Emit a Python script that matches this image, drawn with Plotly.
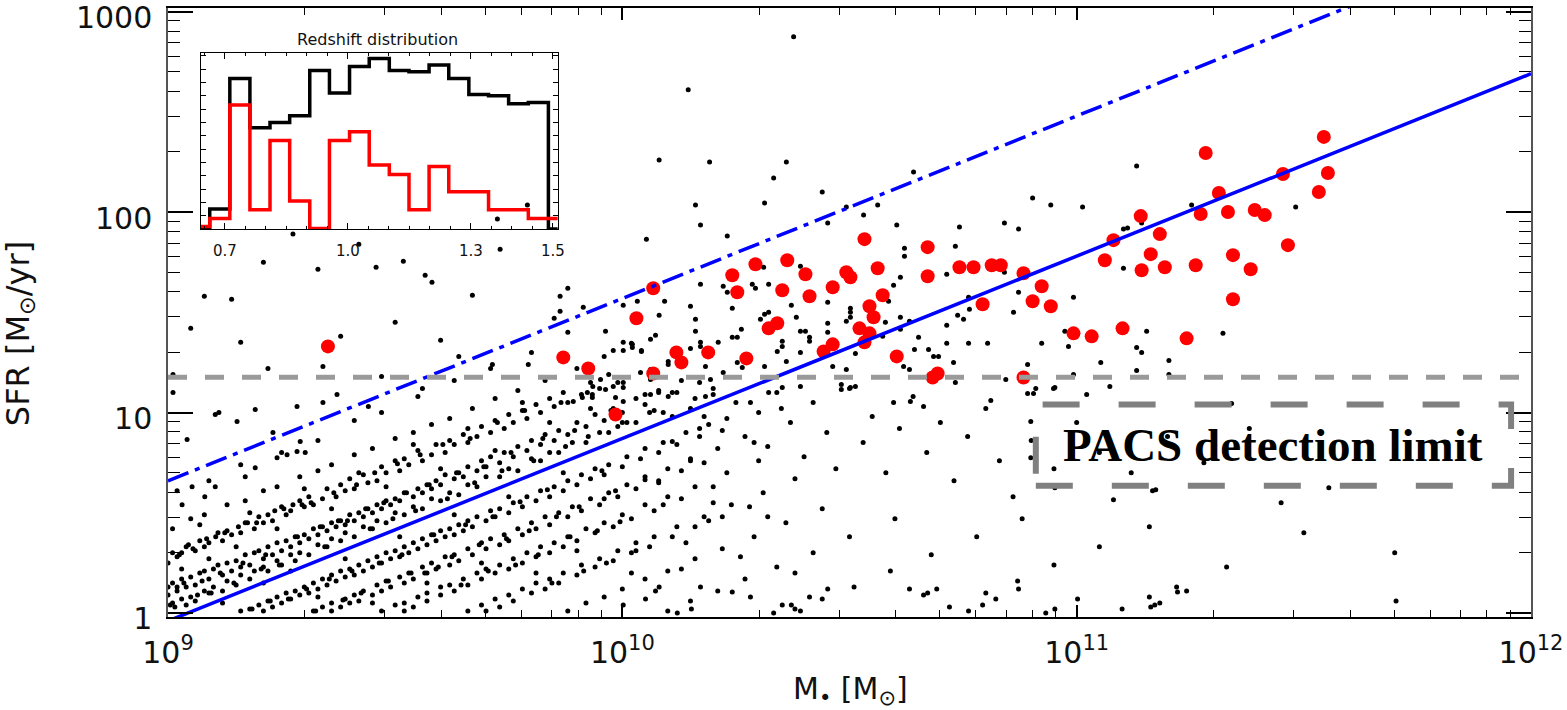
import plotly.graph_objects as go

# ---------------------------------------------------------------------------
# Field galaxies: pairs of (log10 M* [Msun], log10 SFR [Msun/yr])
# ---------------------------------------------------------------------------
field_sparse = [
    (9.011, 1.19), (9.011, 1.10), (9.341, 1.23), (9.341, 1.05), (9.372, 1.09),
    (9.284, 1.03), (9.192, 1.015), (9.104, 0.99), (9.112, 1.00), (9.152, 0.955),
    (9.441, 1.03), (9.714, 1.24), (9.793, 1.24), (9.042, 0.865), (9.031, 0.54),
    (9.053, 0.63), (9.081, 0.58), (9.104, 0.63), (9.231, 0.90), (9.192, 0.725),
    (9.170, 0.68), (9.291, 0.855), (9.262, 0.79), (9.240, 0.775), (9.284, 0.805),
    (9.302, 0.80), (9.080, 1.58), (9.140, 1.565), (9.210, 1.75), (9.275, 1.89),
    (9.330, 1.715), (9.420, 1.84), (9.458, 1.725), (9.518, 1.755), (9.566, 1.685),
    (9.581, 1.65), (9.670, 1.585), (9.725, 1.965), (9.791, 2.035), (9.731, 1.815),
    (10.145, 2.61), (10.377, 2.875), (9.05, 1.42), (9.38, 1.38), (9.60, 1.36),
    (9.50, 1.45), (9.88, 1.62), (9.64, 1.28), (9.85, 1.47), (9.47, 1.18),
    (9.56, 1.12), (9.22, 1.22), (9.16, 1.35),
]

field_band_top = [
    (9.02, 0.61), (9.09, 0.66), (9.16, 0.74), (9.25, 0.80), (9.33, 0.86),
    (9.41, 0.96), (9.47, 1.00), (9.55, 1.08), (9.63, 1.16), (9.71, 1.22),
    (9.80, 1.30), (9.88, 1.40),
    (9.01, 0.42), (9.05, 0.47), (9.08, 0.49), (9.13, 0.54), (9.17, 0.56),
    (9.21, 0.61), (9.24, 0.63), (9.29, 0.68), (9.33, 0.71), (9.36, 0.74),
    (9.41, 0.79), (9.45, 0.82), (9.50, 0.87), (9.54, 0.90), (9.58, 0.94),
    (9.62, 0.97), (9.67, 1.02), (9.72, 1.07), (9.77, 1.11), (9.83, 1.16),
    (9.90, 1.22), (9.96, 1.28),
]

field_band_upper = [
    (9.00, 0.25), (9.02, 0.28), (9.03, 0.30), (9.06, 0.31), (9.08, 0.33),
    (9.09, 0.35), (9.12, 0.36), (9.14, 0.39), (9.16, 0.40), (9.19, 0.42),
    (9.21, 0.45), (9.23, 0.46), (9.26, 0.49), (9.27, 0.51), (9.30, 0.53),
    (9.32, 0.54), (9.34, 0.57), (9.37, 0.58), (9.39, 0.61), (9.41, 0.62),
    (9.44, 0.65), (9.46, 0.66), (9.48, 0.70), (9.51, 0.71), (9.53, 0.74),
    (9.56, 0.76), (9.58, 0.79), (9.61, 0.80), (9.63, 0.84), (9.66, 0.85),
    (9.68, 0.88), (9.71, 0.90), (9.74, 0.92), (9.76, 0.95), (9.79, 0.97),
    (9.82, 1.00), (9.85, 1.03), (9.88, 1.05), (9.91, 1.09), (9.95, 1.12),
    (9.99, 1.15), (10.04, 1.20),
    (9.01, 0.30), (9.04, 0.33), (9.07, 0.36), (9.11, 0.40), (9.13, 0.41),
    (9.17, 0.45), (9.20, 0.48), (9.22, 0.49), (9.25, 0.53), (9.29, 0.56),
    (9.31, 0.58), (9.35, 0.62), (9.38, 0.64), (9.40, 0.67), (9.43, 0.69),
    (9.47, 0.73), (9.50, 0.76), (9.52, 0.77), (9.55, 0.81), (9.59, 0.84),
    (9.62, 0.86), (9.65, 0.89), (9.69, 0.93), (9.72, 0.96), (9.75, 0.99),
    (9.78, 1.01), (9.81, 1.04), (9.84, 1.07), (9.87, 1.10), (9.93, 1.15),
    (9.97, 1.19),
    (9.00, 0.13), (9.01, 0.15), (9.03, 0.17), (9.05, 0.18), (9.07, 0.20),
    (9.08, 0.21), (9.10, 0.22), (9.11, 0.24), (9.13, 0.25), (9.15, 0.26),
    (9.17, 0.29), (9.19, 0.30), (9.20, 0.31), (9.22, 0.33), (9.24, 0.35),
    (9.26, 0.36), (9.28, 0.38), (9.30, 0.39), (9.32, 0.42), (9.34, 0.43),
    (9.36, 0.45), (9.38, 0.46), (9.40, 0.49), (9.42, 0.50), (9.44, 0.52),
    (9.46, 0.54), (9.48, 0.56), (9.50, 0.57), (9.52, 0.60), (9.55, 0.62),
    (9.57, 0.64), (9.59, 0.66), (9.61, 0.69), (9.64, 0.70), (9.66, 0.73),
    (9.69, 0.76), (9.71, 0.78), (9.74, 0.80), (9.77, 0.83), (9.80, 0.86),
    (9.83, 0.89), (9.86, 0.91), (9.90, 0.95), (9.94, 0.99), (9.98, 1.02),
    (10.03, 1.07), (10.08, 1.11), (10.13, 1.16),
    (9.00, 0.09), (9.02, 0.11), (9.04, 0.13), (9.06, 0.14), (9.09, 0.17),
    (9.12, 0.19), (9.14, 0.21), (9.16, 0.23), (9.18, 0.24), (9.21, 0.27),
    (9.23, 0.29), (9.25, 0.31), (9.27, 0.33), (9.29, 0.35), (9.31, 0.37),
    (9.33, 0.39), (9.35, 0.41), (9.37, 0.43), (9.39, 0.44), (9.41, 0.46),
    (9.43, 0.48), (9.45, 0.50), (9.47, 0.52), (9.49, 0.54), (9.51, 0.56),
    (9.54, 0.58), (9.56, 0.60), (9.58, 0.62), (9.60, 0.64), (9.63, 0.67),
    (9.65, 0.68), (9.68, 0.71), (9.70, 0.73), (9.73, 0.75), (9.76, 0.78),
    (9.79, 0.81), (9.82, 0.84), (9.85, 0.86), (9.88, 0.89), (9.92, 0.93),
    (9.96, 0.96), (10.00, 1.00), (10.05, 1.04), (10.11, 1.10),
]

field_band_mid = [
    (9.04, 0.04), (9.06, 0.06), (9.09, 0.10), (9.12, 0.11), (9.15, 0.14),
    (9.18, 0.17), (9.22, 0.21), (9.25, 0.24), (9.28, 0.26), (9.31, 0.29),
    (9.35, 0.33), (9.38, 0.36), (9.41, 0.38), (9.45, 0.42), (9.48, 0.45),
    (9.52, 0.49), (9.56, 0.52), (9.60, 0.56), (9.64, 0.59), (9.68, 0.63),
    (9.73, 0.68), (9.77, 0.71), (9.82, 0.76), (9.86, 0.80), (9.92, 0.85),
    (9.97, 0.90), (10.03, 0.95), (10.09, 1.00), (10.16, 1.07),
    (9.01, 0.05), (9.03, 0.07), (9.05, 0.08), (9.08, 0.11), (9.10, 0.13),
    (9.13, 0.16), (9.16, 0.19), (9.19, 0.21), (9.21, 0.23), (9.24, 0.26),
    (9.27, 0.29), (9.29, 0.30), (9.33, 0.34), (9.36, 0.37), (9.39, 0.40),
    (9.43, 0.43), (9.46, 0.46), (9.50, 0.50), (9.54, 0.53), (9.58, 0.57),
    (9.62, 0.60), (9.66, 0.64), (9.70, 0.68), (9.75, 0.72), (9.80, 0.77),
    (9.84, 0.80), (9.89, 0.85), (9.95, 0.90), (10.00, 0.95), (10.06, 1.00),
    (9.16, 0.01), (9.18, 0.02), (9.20, 0.04), (9.22, 0.06), (9.24, 0.08),
    (9.26, 0.10), (9.28, 0.11), (9.30, 0.13), (9.32, 0.15), (9.34, 0.17),
    (9.36, 0.19), (9.38, 0.21), (9.40, 0.22), (9.42, 0.24), (9.44, 0.26),
    (9.46, 0.28), (9.48, 0.30), (9.50, 0.31), (9.52, 0.33), (9.54, 0.35),
    (9.56, 0.37), (9.58, 0.39), (9.60, 0.41), (9.62, 0.42), (9.64, 0.44),
    (9.66, 0.46), (9.68, 0.48), (9.71, 0.51), (9.73, 0.52), (9.76, 0.55),
    (9.79, 0.58), (9.82, 0.61), (9.85, 0.63), (9.88, 0.66), (9.91, 0.69),
    (9.94, 0.72), (9.97, 0.74), (10.01, 0.78), (10.05, 0.82), (10.09, 0.85),
    (10.14, 0.90), (10.19, 0.94),
    (9.21, 0.01), (9.23, 0.03), (9.25, 0.05), (9.27, 0.07), (9.29, 0.09),
    (9.31, 0.10), (9.33, 0.12), (9.35, 0.14), (9.37, 0.16), (9.39, 0.18),
    (9.41, 0.19), (9.43, 0.21), (9.45, 0.23), (9.47, 0.25), (9.49, 0.27),
    (9.51, 0.28), (9.53, 0.30), (9.55, 0.32), (9.57, 0.34), (9.59, 0.36),
    (9.61, 0.38), (9.63, 0.39), (9.65, 0.41), (9.67, 0.43), (9.70, 0.46),
    (9.72, 0.48), (9.75, 0.50), (9.78, 0.53), (9.81, 0.56), (9.84, 0.58),
    (9.87, 0.61), (9.90, 0.64), (9.93, 0.67), (9.96, 0.69), (10.00, 0.73),
    (10.04, 0.77), (10.08, 0.80), (10.12, 0.84), (10.17, 0.88),
]

field_band_low = [
    (9.32, 0.01), (9.34, 0.03), (9.36, 0.05), (9.39, 0.07), (9.41, 0.09),
    (9.43, 0.11), (9.46, 0.14), (9.48, 0.16), (9.51, 0.18), (9.53, 0.20),
    (9.56, 0.23), (9.58, 0.25), (9.61, 0.28), (9.63, 0.29), (9.66, 0.32),
    (9.69, 0.35), (9.71, 0.37), (9.74, 0.39), (9.77, 0.42), (9.80, 0.45),
    (9.83, 0.48), (9.86, 0.50), (9.89, 0.53), (9.93, 0.57), (9.97, 0.60),
    (10.01, 0.64), (10.05, 0.68), (10.10, 0.72), (10.15, 0.77), (10.21, 0.82),
    (9.36, 0.01), (9.38, 0.03), (9.40, 0.05), (9.42, 0.06), (9.45, 0.09),
    (9.47, 0.11), (9.49, 0.13), (9.52, 0.15), (9.54, 0.17), (9.57, 0.20),
    (9.59, 0.22), (9.62, 0.24), (9.64, 0.26), (9.67, 0.29), (9.70, 0.32),
    (9.73, 0.34), (9.75, 0.36), (9.78, 0.39), (9.81, 0.42), (9.84, 0.44),
    (9.88, 0.48), (9.91, 0.51), (9.95, 0.54), (9.99, 0.58), (10.03, 0.62),
    (10.08, 0.66), (10.13, 0.71), (10.18, 0.75),
    (9.47, 0.01), (9.50, 0.04), (9.52, 0.05), (9.55, 0.08), (9.57, 0.10),
    (9.60, 0.13), (9.62, 0.14), (9.65, 0.17), (9.68, 0.20), (9.70, 0.22),
    (9.73, 0.24), (9.76, 0.27), (9.79, 0.30), (9.82, 0.33), (9.85, 0.35),
    (9.88, 0.38), (9.92, 0.42), (9.96, 0.45), (10.00, 0.49), (10.05, 0.54),
    (10.10, 0.58), (10.16, 0.63), (10.23, 0.70), (10.30, 0.76),
    (9.52, 0.01), (9.54, 0.03), (9.57, 0.06), (9.60, 0.09), (9.63, 0.11),
    (9.66, 0.14), (9.69, 0.17), (9.72, 0.20), (9.75, 0.22), (9.78, 0.25),
    (9.81, 0.28), (9.84, 0.30), (9.87, 0.33), (9.90, 0.36), (9.94, 0.40),
    (9.98, 0.43), (10.02, 0.47), (10.07, 0.51), (10.13, 0.57), (10.20, 0.63),
    (9.66, 0.01), (9.69, 0.04), (9.72, 0.07), (9.75, 0.09), (9.78, 0.12),
    (9.81, 0.15), (9.84, 0.17), (9.87, 0.20), (9.91, 0.24), (9.95, 0.27),
    (9.99, 0.31), (10.03, 0.35), (10.07, 0.38), (10.12, 0.43), (10.18, 0.48),
    (10.24, 0.54), (10.31, 0.60), (10.38, 0.67),
    (9.70, 0.01), (9.73, 0.03), (9.76, 0.06), (9.80, 0.10), (9.83, 0.12),
    (9.86, 0.15), (9.90, 0.19), (9.94, 0.23), (9.98, 0.26), (10.02, 0.30),
    (10.06, 0.33), (10.11, 0.38), (10.16, 0.43), (10.22, 0.48), (10.28, 0.53),
    (9.88, 0.01), (9.92, 0.05), (9.96, 0.08), (10.00, 0.12), (10.05, 0.17),
    (10.10, 0.21), (10.16, 0.27), (10.22, 0.32), (10.29, 0.38), (10.36, 0.45),
    (10.44, 0.52),
    (10.10, 0.01), (10.15, 0.06), (10.21, 0.11), (10.27, 0.17), (10.34, 0.23),
    (10.42, 0.30), (10.50, 0.38), (10.60, 0.47),
    (10.38, 0.02), (10.44, 0.07), (10.51, 0.13), (10.59, 0.21), (10.68, 0.29),
    (10.78, 0.38), (10.88, 0.47),
    (10.72, 0.03), (10.80, 0.10), (10.87, 0.16), (10.95, 0.24), (11.05, 0.33),
    (11.16, 0.43),
    (11.10, 0.02), (11.16, 0.08), (11.22, 0.13), (11.33, 0.23),
]

field_scatter = [
    (9.03, 0.22), (9.07, 0.44), (9.09, 0.27), (9.12, 0.05), (9.15, 0.33),
    (9.18, 0.50), (9.21, 0.15), (9.24, 0.42), (9.27, 0.21), (9.30, 0.62),
    (9.33, 0.08), (9.36, 0.52), (9.39, 0.27), (9.42, 0.70), (9.45, 0.05),
    (9.48, 0.63), (9.51, 0.38), (9.54, 0.84), (9.57, 0.15), (9.60, 0.72),
    (9.63, 0.49), (9.66, 0.92), (9.69, 0.25), (9.72, 0.81), (9.75, 0.58),
    (9.78, 1.05), (9.81, 0.20), (9.84, 0.95), (9.87, 0.70), (9.90, 0.31),
    (9.93, 1.02), (9.96, 0.57), (9.99, 0.93), (10.02, 0.20), (10.05, 1.09),
    (10.08, 0.65), (10.11, 0.98), (10.14, 0.35), (10.17, 1.15), (10.20, 0.55),
    (10.23, 0.97), (10.26, 0.28), (10.29, 0.85), (10.32, 0.48), (10.35, 1.02),
    (10.38, 0.20),
]

field_ribbons = [
    (9.005, 0.04), (9.015, 0.03), (9.020, 0.13), (9.025, 0.29), (9.035, 0.15),
    (9.045, 0.34), (9.055, 0.32), (9.065, 0.09), (9.075, 0.16), (9.085, 0.37),
    (9.095, 0.10), (9.105, 0.38), (9.115, 0.20), (9.125, 0.40), (9.145, 0.15),
    (9.155, 0.43), (9.165, 0.25), (9.175, 0.45), (9.185, 0.02), (9.195, 0.45),
    (9.205, 0.22), (9.215, 0.29), (9.225, 0.06), (9.235, 0.51), (9.245, 0.24),
    (9.255, 0.52), (9.265, 0.07), (9.275, 0.54), (9.285, 0.38), (9.295, 0.54),
    (9.305, 0.12), (9.315, 0.55), (9.325, 0.01), (9.335, 0.43), (9.345, 0.33),
    (9.355, 0.17), (9.365, 0.60), (9.375, 0.46), (9.385, 0.065), (9.395, 0.46),
    (9.405, 0.21), (9.415, 0.64), (9.425, 0.10), (9.435, 0.52), (9.445, 0.42),
    (9.455, 0.70), (9.465, 0.25), (9.475, 0.55), (9.485, 0.16), (9.495, 0.47),
    (9.505, 0.745), (9.515, 0.29), (9.525, 0.60), (9.535, 0.20), (9.545, 0.51),
    (9.555, 0.79), (9.565, 0.20), (9.575, 0.64), (9.585, 0.39), (9.595, 0.23),
    (9.605, 0.84), (9.615, 0.57), (9.625, 0.28), (9.635, 0.70), (9.645, 0.14),
    (9.655, 0.44), (9.665, 0.87), (9.675, 0.65), (9.685, 0.34), (9.695, 0.73),
    (9.705, 0.21), (9.715, 0.48), (9.725, 0.95), (9.735, 0.71), (9.745, 0.37),
    (9.755, 0.80), (9.765, 0.24), (9.775, 0.555), (9.785, 1.01), (9.795, 0.41),
    (9.805, 0.76), (9.815, 0.29), (9.825, 0.87), (9.835, 0.615), (9.845, 0.15),
    (9.855, 0.48), (9.865, 1.05), (9.875, 0.83), (9.885, 0.38), (9.895, 0.91),
    (9.905, 0.53), (9.915, 0.21), (9.925, 0.88), (9.935, 1.13), (9.945, 0.41),
    (9.955, 0.71), (9.965, 0.25), (9.975, 1.01), (9.985, 0.61), (9.995, 0.455),
    (10.01, 0.95), (10.03, 0.31), (10.05, 0.665), (10.07, 1.01), (10.09, 0.54),
    (10.11, 0.855), (10.13, 0.22), (10.15, 0.76), (10.17, 0.92), (10.19, 0.46),
]

field_floor = [
    (10.002, 0.04), (10.051, 0.07), (10.073, 0.11), (10.081, 0.13), (10.121, 0.00),
    (10.152, 0.02), (10.172, 0.13), (10.242, 0.105), (10.282, 0.08), (10.333, 0.00),
    (10.352, 0.04), (10.372, 0.04), (10.392, 0.01), (10.412, 0.08), (10.452, 0.12),
    (10.632, 0.12), (10.663, 0.09), (10.672, 0.10), (10.692, 0.12), (10.762, 0.01),
    (10.793, 0.04), (10.822, 0.07), (10.872, 0.12), (10.932, 0.00), (10.952, 0.02),
    (11.002, 0.07), (11.163, 0.03), (11.172, 0.04), (11.183, 0.05), (11.222, 0.105),
    (11.242, 0.11), (11.703, 0.06),
]

field_mid = [
    (10.081, 2.26), (10.192, 2.25), (10.361, 2.25), (10.333, 2.17), (10.641, 2.20),
    (10.440, 2.10), (10.903, 2.07), (10.943, 2.035), (10.161, 2.035), (10.313, 2.045),
    (10.493, 2.025), (10.562, 2.035), (10.531, 1.985), (10.452, 1.945), (10.604, 1.935),
    (10.742, 1.925), (10.841, 1.945), (10.872, 1.915), (10.172, 1.935), (10.053, 1.865),
    (10.231, 1.88), (10.621, 1.82), (10.621, 1.78), (10.733, 1.83), (10.612, 1.675),
    (10.597, 1.635), (10.714, 1.69), (10.392, 1.73), (10.311, 1.725), (10.286, 1.64),
    (10.293, 1.62), (10.322, 1.64), (10.222, 1.63), (10.231, 1.60), (10.172, 1.64),
    (10.093, 1.555), (10.081, 1.485), (10.033, 1.555), (9.863, 1.58), (9.863, 1.505),
    (9.914, 1.525), (9.963, 1.405), (10.002, 1.535), (10.762, 1.575), (10.764, 1.515),
    (10.861, 1.50), (10.714, 1.435), (10.738, 1.485), (10.751, 1.465), (10.612, 1.475),
    (10.612, 1.415), (10.586, 1.555), (10.579, 1.45), (10.652, 1.375), (10.696, 1.28),
    (10.685, 1.28), (10.714, 1.345), (10.729, 1.25), (10.632, 1.455), (10.632, 1.215),
    (10.643, 1.315), (10.674, 1.315), (10.619, 1.23), (10.597, 1.05), (10.634, 1.055),
    (10.663, 1.03), (10.762, 1.345), (10.804, 1.345), (10.811, 1.06), (10.844, 1.165),
    (10.892, 1.095), (10.905, 1.095), (10.949, 1.12), (10.733, 1.15),
    (10.002, 1.35), (10.020, 1.345), (9.980, 1.31), (10.002, 1.31), (10.042, 1.31),
    (10.062, 1.365), (10.073, 1.385), (10.101, 1.255), (10.101, 1.24), (10.062, 1.215),
    (10.062, 1.165), (10.062, 1.09), (10.080, 1.10), (10.101, 1.08), (10.150, 1.53),
    (10.150, 1.32), (10.161, 1.465), (10.161, 1.405), (10.172, 1.35), (10.172, 1.33),
    (10.183, 1.23), (10.194, 1.165), (10.200, 1.09), (10.183, 1.08), (10.211, 1.35),
    (10.222, 1.20), (10.242, 1.52), (10.242, 1.375), (10.253, 1.375), (10.262, 1.415),
    (10.253, 1.25), (10.264, 1.225), (10.282, 1.05), (10.304, 1.465), (10.313, 1.49),
    (10.322, 1.50), (10.313, 1.23), (10.322, 1.10), (10.341, 1.305), (10.352, 1.355),
    (10.352, 1.33), (10.352, 1.125), (10.361, 1.255), (10.372, 1.535), (10.383, 1.475),
    (10.392, 1.405), (10.403, 1.405), (10.412, 1.375), (10.412, 1.355), (10.392, 1.30),
    (10.392, 1.13), (10.452, 1.55), (10.452, 1.445), (10.452, 1.40), (10.463, 1.23),
    (10.482, 1.14), (10.482, 1.115), (10.493, 1.455), (10.493, 1.215), (10.502, 1.52),
    (10.502, 1.50), (10.502, 1.475), (10.502, 1.125), (10.513, 1.13), (10.513, 1.295),
    (10.573, 1.38),
    (9.892, 1.055), (9.912, 1.075), (9.923, 1.10), (9.934, 1.09), (9.934, 1.075),
    (9.952, 1.165), (9.963, 1.115), (9.980, 1.13), (9.985, 1.075), (10.002, 1.15),
    (10.002, 1.125), (10.002, 1.055), (10.022, 1.34), (10.022, 1.325), (10.042, 1.305),
    (10.12, 1.10), (10.15, 1.02), (10.18, 0.98), (10.20, 1.12), (10.22, 0.91),
    (10.25, 1.05), (10.27, 0.88), (10.30, 1.00), (10.32, 0.83), (10.34, 1.10),
    (10.37, 0.95), (10.40, 0.78), (10.42, 1.05), (10.45, 0.90), (10.47, 0.72),
    (10.50, 1.12), (10.53, 0.85), (10.55, 0.98), (10.58, 0.70), (10.61, 0.92),
    (10.64, 1.08), (10.67, 0.80), (10.70, 0.95), (10.73, 0.66), (10.76, 0.88),
    (10.80, 1.02), (10.83, 0.76), (10.86, 0.58), (10.90, 0.86), (10.95, 0.72),
    (11.00, 0.95), (11.05, 0.80), (11.12, 0.70), (11.20, 0.88), (11.28, 0.75),
    (11.38, 0.92), (11.45, 0.55), (11.50, 0.40), (11.62, 0.85), (11.70, 0.30),
]

field_massive = [
    (11.132, 2.23), (11.013, 2.025), (11.103, 1.915), (11.112, 1.92), (11.143, 1.945),
    (11.253, 2.035), (11.482, 2.025), (11.103, 1.72), (10.841, 1.70), (10.872, 1.60),
    (10.993, 1.575), (10.974, 1.405), (11.154, 1.405), (10.923, 1.345), (10.982, 1.33),
    (11.132, 1.325), (11.143, 1.30), (11.322, 1.395), (11.053, 1.25), (10.892, 1.24),
    (10.993, 1.19), (11.132, 1.21), (11.203, 1.26), (11.203, 1.19), (11.073, 1.13),
    (10.952, 1.125), (10.910, 1.12), (11.022, 1.09), (11.341, 1.045), (10.899, 0.955),
    (10.899, 0.775), (10.952, 0.625), (11.555, 0.625), (11.167, 0.61), (11.174, 0.615),
    (11.081, 0.565),
]

# PACS-detected galaxies (log10 M*, log10 SFR)
pacs_detected = [
    (9.352, 1.33), (9.870, 1.275), (9.925, 1.22), (9.985, 0.99), (10.031, 1.47),
    (10.068, 1.62), (10.068, 1.195), (10.119, 1.30), (10.130, 1.25), (10.189, 1.30),
    (10.242, 1.685), (10.253, 1.60), (10.273, 1.27), (10.293, 1.74), (10.322, 1.42),
    (10.341, 1.445), (10.352, 1.61), (10.363, 1.76), (10.403, 1.69), (10.412, 1.58),
    (10.443, 1.305), (10.463, 1.34), (10.463, 1.625), (10.493, 1.70), (10.502, 1.675),
    (10.522, 1.42), (10.533, 1.865), (10.533, 1.35), (10.544, 1.53), (10.544, 1.395),
    (10.553, 1.475), (10.562, 1.72), (10.573, 1.585), (10.604, 1.28), (10.672, 1.825),
    (10.672, 1.68), (10.683, 1.175), (10.694, 1.195), (10.742, 1.725), (10.773, 1.725),
    (10.793, 1.54), (10.813, 1.735), (10.833, 1.735), (10.883, 1.695), (10.883, 1.175),
    (10.903, 1.555), (10.923, 1.63), (10.943, 1.53), (10.993, 1.395), (11.033, 1.38),
    (11.062, 1.76), (11.081, 1.86), (11.101, 1.42), (11.141, 1.98), (11.143, 1.71),
    (11.163, 1.79), (11.183, 1.89), (11.194, 1.725), (11.242, 1.37), (11.262, 1.735),
    (11.273, 1.99), (11.284, 2.295), (11.313, 2.095), (11.333, 2.00), (11.344, 1.785),
    (11.344, 1.565), (11.383, 1.715), (11.392, 2.01), (11.414, 1.985), (11.454, 2.19),
    (11.465, 1.835), (11.533, 2.10), (11.544, 2.375), (11.553, 2.195),
]

# Main-sequence relation and the starburst boundary (5x above it)
line_mass = [1e9, 1e12]
ms_sfr = [0.912, 490.0]
sb_sfr = [4.56, 2450.0]
pacs_limit_sfr = 15.0

# Redshift histograms (inset)
z_edges = [0.641, 0.663, 0.712, 0.761, 0.810, 0.858, 0.907, 0.955, 1.004, 1.052,
           1.101, 1.149, 1.198, 1.246, 1.295, 1.343, 1.392, 1.440, 1.489, 1.512]
n_all = [0, 15, 113, 76, 80, 85, 119, 102, 122, 128, 119, 118, 123, 113, 101,
         100, 94, 95, 0]
n_pacs = [2, 8, 93, 14.5, 66.5, 21, 0.5, 66.5, 73, 48, 41, 14.5, 47, 28, 28,
          14.5, 14.5, 8, 8]


def to_linear(groups):
    xs, ys = [], []
    for group in groups:
        for lm, ls in group:
            xs.append(10 ** lm)
            ys.append(10 ** ls)
    return xs, ys


field_x, field_y = to_linear([field_sparse, field_band_top, field_band_upper,
                              field_band_mid, field_band_low, field_scatter,
                              field_ribbons, field_floor, field_mid,
                              field_massive])
pacs_x, pacs_y = to_linear([pacs_detected])

FONT = "DejaVu Sans"
fig = go.Figure()

fig.add_trace(go.Scatter(
    x=field_x, y=field_y, mode="markers",
    marker=dict(size=5, color="black"), hoverinfo="skip", showlegend=False))

fig.add_trace(go.Scatter(
    x=pacs_x, y=pacs_y, mode="markers",
    marker=dict(size=14, color="#ff0000"), showlegend=False))

fig.add_trace(go.Scatter(
    x=line_mass, y=ms_sfr, mode="lines",
    line=dict(color="#0000ff", width=3.5), showlegend=False))

fig.add_trace(go.Scatter(
    x=line_mass, y=sb_sfr, mode="lines",
    line=dict(color="#0000ff", width=3.5, dash="22px,7px,5px,7px"),
    showlegend=False))

fig.add_trace(go.Scatter(
    x=line_mass, y=[pacs_limit_sfr, pacs_limit_sfr], mode="lines",
    line=dict(color="#9a9a9a", width=5, dash="19px,18px"), showlegend=False))

# inset histograms drawn as step outlines
fig.add_trace(go.Scatter(
    x=z_edges, y=n_all + [n_all[-1]], mode="lines", line_shape="hv",
    line=dict(color="black", width=3.5), xaxis="x2", yaxis="y2",
    showlegend=False))
fig.add_trace(go.Scatter(
    x=z_edges, y=n_pacs + [n_pacs[-1]], mode="lines", line_shape="hv",
    line=dict(color="#ff0000", width=3.5), xaxis="x2", yaxis="y2",
    showlegend=False))

x_minor = [k * 10 ** e for e in (9, 10, 11) for k in range(2, 10)]
y_minor = [k * 10 ** e for e in (0, 1, 2) for k in range(2, 10)]

fig.update_layout(
    width=1567, height=710,
    margin=dict(l=168, r=36, t=8, b=93),
    paper_bgcolor="white", plot_bgcolor="rgba(0,0,0,0)",
    font=dict(family=FONT, color="#111"),
    xaxis=dict(
        type="log", range=[9, 12], automargin=False,
        tickmode="array", tickvals=[1e9, 1e10, 1e11, 1e12],
        ticktext=["10<sup>9</sup>", "10<sup>10</sup>", "10<sup>11</sup>", "10<sup>12</sup>"],
        ticks="inside", ticklen=12, tickwidth=1.5, tickcolor="black",
        minor=dict(tickmode="array", tickvals=x_minor, ticks="inside",
                   ticklen=7, tickwidth=1.2, tickcolor="black"),
        showline=True, linecolor="black", linewidth=1.5, mirror="allticks",
        showgrid=False, zeroline=False,
        tickfont=dict(family=FONT, size=30, color="#111"),
        ticklabelstandoff=8, ticklabeloverflow="allow",
    ),
    yaxis=dict(
        type="log", range=[-0.02, 3.018], automargin=False,
        tickmode="array", tickvals=[1, 10, 100, 1000],
        ticktext=["1", "10", "100", "1000"],
        ticks="inside", ticklen=25, tickwidth=1.5, tickcolor="black",
        minor=dict(tickmode="array", tickvals=y_minor, ticks="inside",
                   ticklen=12, tickwidth=1.2, tickcolor="black"),
        showline=True, linecolor="#555", linewidth=1.5, mirror="allticks",
        showgrid=False, zeroline=False,
        tickfont=dict(family=FONT, size=30, color="#111"),
        ticklabelstandoff=8, ticklabeloverflow="allow", ticklabelshift=6,
    ),
    xaxis2=dict(
        domain=[0.024, 0.286], anchor="y2", range=[0.641, 1.512],
        automargin=False,
        tickmode="array", tickvals=[0.7, 1.0, 1.3, 1.5],
        ticktext=["0.7", "1.0", "1.3", "1.5"],
        ticks="inside", ticklen=6, tickwidth=1, tickcolor="black",
        minor=dict(dtick=0.05, ticks="inside", ticklen=3, tickcolor="black"),
        showline=True, linecolor="black", linewidth=1.2, mirror="allticks",
        showgrid=False, zeroline=False,
        tickfont=dict(family=FONT, size=15, color="#111"),
        ticklabelstandoff=8,
    ),
    yaxis2=dict(
        domain=[0.637, 0.926], anchor="x2", range=[0, 132], automargin=False,
        tickmode="linear", tick0=0, dtick=10, showticklabels=False,
        ticks="inside", ticklen=5, tickwidth=1, tickcolor="black",
        showline=True, linecolor="black", linewidth=1.2, mirror="allticks",
        showgrid=False, zeroline=False,
    ),
    shapes=[dict(
        type="rect", xref="x", yref="y",
        x0=8.13e10, x1=9.04e11, y0=4.31, y1=10.96,
        line=dict(color="#808080", width=6, dash="37px,39px"),
        fillcolor="rgba(0,0,0,0)", layer="above")],
    annotations=[
        dict(text="PACS detection limit", xref="paper", yref="paper",
             x=0.8107, y=0.283, xanchor="center", yanchor="middle",
             showarrow=False,
             font=dict(family="Liberation Serif", size=47, color="black",
                       weight="bold")),
        dict(text="Redshift distribution", xref="paper", yref="paper",
             x=0.154, y=0.949, xanchor="center", yanchor="middle",
             showarrow=False, font=dict(family=FONT, size=16, color="#111")),
        dict(text="SFR [M<sub>⊙</sub>/yr]", xref="paper", yref="paper",
             x=-0.1086, y=0.466, xanchor="center", yanchor="middle",
             textangle=-90, showarrow=False,
             font=dict(family=FONT, size=32, color="#111")),
        dict(text="M<sub>•</sub> [M<sub>⊙</sub>]", xref="paper", yref="paper",
             x=0.5004, y=-0.12, xanchor="center", yanchor="middle",
             showarrow=False, font=dict(family=FONT, size=30, color="#111")),
    ],
)

fig.write_html("out.html")
